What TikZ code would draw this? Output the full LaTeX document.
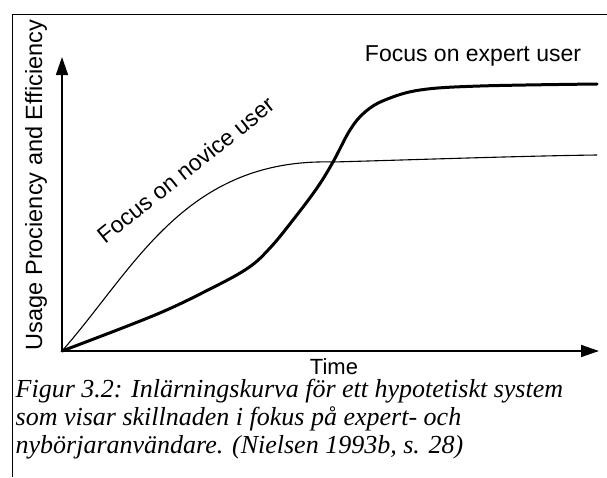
\documentclass[tikz,border=0pt]{standalone}
\usepackage{fontspec}
\setmainfont{Liberation Sans}
\newfontfamily\capfont{Liberation Serif}
\usetikzlibrary{arrows.meta}
\begin{document}
\begin{tikzpicture}[x=1pt,y=-1pt,
  lbl/.style={font=\fontsize{23}{27}\selectfont, inner sep=0pt},
  captxt/.style={font=\capfont\itshape\fontsize{26}{28}\selectfont, inner sep=0pt, anchor=base west},
  axisline/.style={line width=1.5pt, -{Triangle[length=18pt,width=12pt]}},
  novice/.style={line width=1.1pt},
  expert/.style={line width=3pt, line cap=round}]
\useasboundingbox (0,0) rectangle (607,477);
\draw[line width=1pt] (12,477) -- (12,14) -- (607,14);
\coordinate (O) at (62,351);
\coordinate (Y) at (62,57);
\coordinate (X) at (599,351);
\coordinate (C) at (333,162);
\coordinate (NE) at (597,155);
\draw[axisline] (O) -- (Y);
\draw[axisline] (O) -- (X);
\draw[novice] (O) .. controls (135,268) and (185,158) .. (C)
  .. controls (413,159.8) and (520,156) .. (NE);
\draw[expert] plot[smooth, tension=0.6] coordinates {(62,351) (155,315) (210,289) (248,268) (270,248) (293,220) (317,188) (333,162) (350,130) (365,112) (385,100) (420,90) (480,86) (597,84)};
\node[lbl, anchor=base] (expertlbl) at (473,61) {Focus on expert user};
\node[lbl, rotate=38.7] (novicelbl) at (186,170) {Focus on novice user};
\node[lbl, rotate=90, anchor=base, font=\fontsize{23.5}{27}\selectfont] (ylbl) at (42,185) {Usage Prociency and Efficiency};
\node[lbl, anchor=base, font=\fontsize{22}{26}\selectfont] (tlbl) at (334,374) {Time};
\node[captxt] (c1) at (15.5,397) {Figur 3.2: Inlärningskurva för ett hypotetiskt system};
\node[captxt] (c2) at (15.5,425) {som visar skillnaden i fokus på expert- och};
\node[captxt] (c3) at (15.5,453) {nybörjaranvändare. (Nielsen 1993b, s. 28)};
\end{tikzpicture}
\end{document}
